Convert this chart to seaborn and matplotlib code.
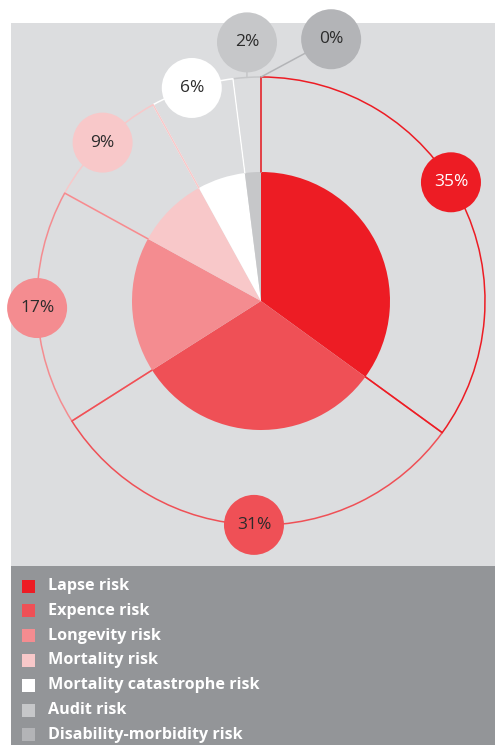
import numpy as np
import matplotlib.pyplot as plt
import seaborn as sns
from matplotlib.patches import Rectangle, Circle, Arc

categories = ['Lapse risk', 'Expence risk', 'Longevity risk', 'Mortality risk',
              'Mortality catastrophe risk', 'Audit risk', 'Disability-morbidity risk']
shares = [35, 31, 17, 9, 6, 2, 0]
colors = ['#ED1C24', '#EF5056', '#F48C90', '#F8C8C9', '#FFFFFF', '#C6C7C9', '#B3B4B7']
text_colors = ['white', '#2b2b2b', '#2b2b2b', '#2b2b2b', '#2b2b2b', '#2b2b2b', '#2b2b2b']
# small tweaks so the bubbles do not overlap (angle shift in degrees, radius shift in px)
label_nudge = [(5, 0), (0, 0), (0, 0), (0, 0), (0, 0), (-0.5, 35), (-15, 47)]

sns.set_theme(style='white')
plt.rcParams['font.family'] = ['Open Sans', 'DejaVu Sans']

W, H = 495, 745
cx, cy = 261, 444
r_pie, R, r_bub = 129, 224, 30

fig = plt.figure(figsize=(W / 100, H / 100), dpi=100)
ax = fig.add_axes([0, 0, 1, 1])

# panels
ax.add_patch(Rectangle((11, 179), W - 11, 543, fc='#DCDDDF', ec='none', zorder=0))
ax.add_patch(Rectangle((11, 0), W - 11, 179, fc='#939598', ec='none', zorder=0))

ax.pie(shares, colors=colors, startangle=90, counterclock=False, center=(cx, cy),
       radius=r_pie, wedgeprops=dict(linewidth=0, zorder=1), frame=True)

cum = np.cumsum([0] + shares) / sum(shares) * 360
starts = 90 - cum[:-1]
ends = 90 - cum[1:]

def pt(ang, rad):
    a = np.deg2rad(ang)
    return cx + rad * np.cos(a), cy + rad * np.sin(a)

# outer ring + radial lines, first slices on top
for i in reversed(range(len(shares))):
    ax.add_patch(Arc((cx, cy), 2 * R, 2 * R, theta1=ends[i], theta2=starts[i],
                     color=colors[i], lw=1.1, zorder=2))
    for ang in (starts[i], ends[i]):
        x0, y0 = pt(ang, r_pie)
        x1, y1 = pt(ang, R)
        ax.plot([x0, x1], [y0, y1], color=colors[i], lw=1.1, zorder=2)

# bubbles
for i, v in enumerate(shares):
    mid = (starts[i] + ends[i]) / 2
    dang, drad = label_nudge[i]
    bx, by = pt(mid + dang, R + drad)
    if drad > 0:
        ax.plot([pt(mid, R)[0], bx], [pt(mid, R)[1], by], color=colors[i], lw=1.1, zorder=3)
    ax.add_patch(Circle((bx, by), r_bub, fc=colors[i], ec='none', zorder=4))
    ax.text(bx, by, f'{v}%', ha='center', va='center', fontsize=12.5,
            color=text_colors[i], zorder=5)

# legend
for k, name in enumerate(categories):
    yc = H - (586 + k * 24.8)
    ax.add_patch(Rectangle((22, yc - 6.5), 13, 13, fc=colors[k], ec='none', zorder=3))
    ax.text(48, yc, name, ha='left', va='center', fontsize=11.6, fontweight='bold',
            color='white', zorder=3)

ax.set_xlim(0, W)
ax.set_ylim(0, H)
ax.set_aspect('equal')
ax.axis('off')

fig.savefig('out.png', dpi=100, facecolor='white')
